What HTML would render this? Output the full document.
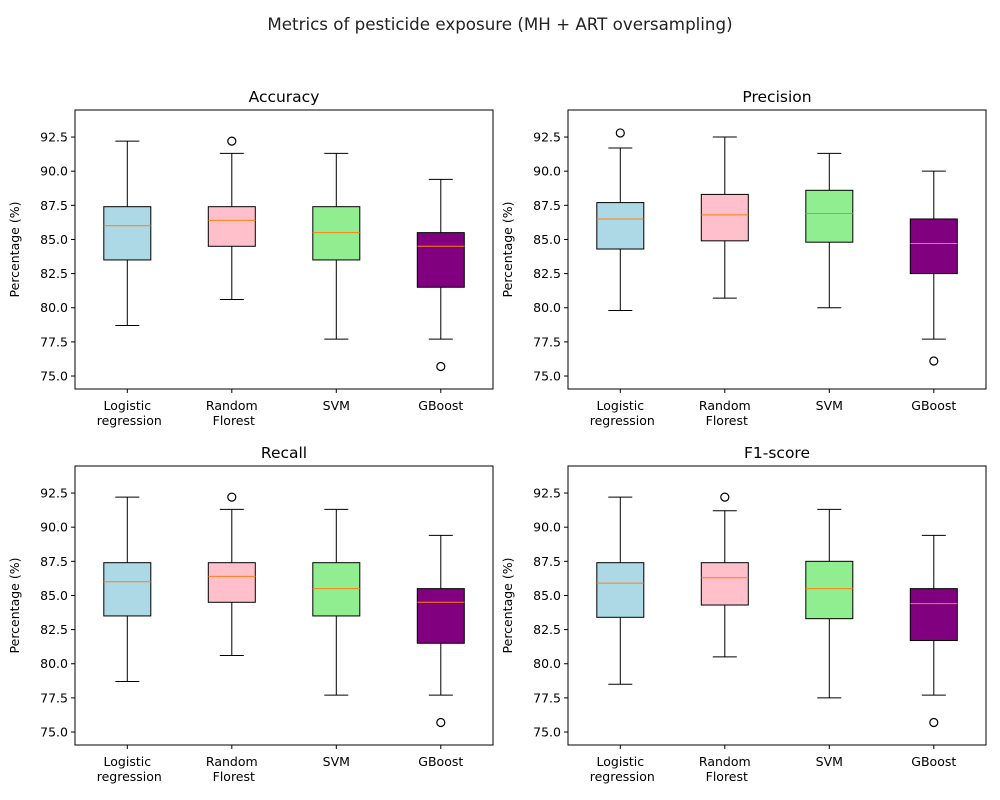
<!DOCTYPE html>
<html><head><meta charset="utf-8"><style>body{margin:0;background:#fff}svg{display:block;font-family:"DejaVu Sans","Liberation Sans",sans-serif}</style></head>
<body>
<svg id="fig" width="1000" height="800">
<rect width="1000" height="800" fill="#fff"/>
<text x="500" y="30" text-anchor="middle" font-size="16.7" fill="#222">Metrics of pesticide exposure (MH + ART oversampling)</text>
</svg>
<script>
const categories = ["Logistic\n regression","Random\n Florest","SVM","GBoost"];
const colors = ["lightblue","pink","lightgreen","purple"];
const panelTitles = ["Accuracy","Precision","Recall","F1-score"];
const yTicks = [75.0,77.5,80.0,82.5,85.0,87.5,90.0,92.5];
// [whiskerLow, q1, median, q3, whiskerHigh] per category
const accuracyStats = [[78.7,83.5,86.0,87.4,92.2],[80.6,84.5,86.4,87.4,91.3],[77.7,83.5,85.5,87.4,91.3],[77.7,81.5,84.5,85.5,89.4]];
const precisionStats = [[79.8,84.3,86.5,87.7,91.7],[80.7,84.9,86.8,88.3,92.5],[80.0,84.8,86.9,88.6,91.3],[77.7,82.5,84.7,86.5,90.0]];
const recallStats = [[78.7,83.5,86.0,87.4,92.2],[80.6,84.5,86.4,87.4,91.3],[77.7,83.5,85.5,87.4,91.3],[77.7,81.5,84.5,85.5,89.4]];
const f1Stats = [[78.5,83.4,85.9,87.4,92.2],[80.5,84.3,86.3,87.4,91.2],[77.5,83.3,85.5,87.5,91.3],[77.7,81.7,84.4,85.5,89.4]];
const accuracyOutliers = [[],[92.2],[],[75.7]];
const precisionOutliers = [[92.8],[],[],[76.1]];
const recallOutliers = [[],[92.2],[],[75.7]];
const f1Outliers = [[],[92.2],[],[75.7]];
const allStats=[accuracyStats,precisionStats,recallStats,f1Stats];
const allOut=[accuracyOutliers,precisionOutliers,recallOutliers,f1Outliers];
const NS="http://www.w3.org/2000/svg";
const svg=document.getElementById('fig');
function mk(tag,attrs,parent,text){const e=document.createElementNS(NS,tag);for(const k in attrs)e.setAttribute(k,attrs[k]);if(text!==undefined)e.textContent=text;(parent||svg).appendChild(e);return e;}
const origins=[[75,110],[568,110],[75,466],[568,466]];
const W=418,H=279,yMin=74.05,yMax=94.48;
origins.forEach((o,p)=>{
  const [ox,oy]=o;
  const g=mk('g',{});
  
  
  const y=v=>oy+H-(v-yMin)/(yMax-yMin)*H;
  const xs=i=>ox+52.3+i*104.5;
  const t=mk('text',{x:ox+W/2,y:oy-8,'text-anchor':'middle','font-size':15.5,fill:'#000'},g,panelTitles[p]);
  
  
  yTicks.forEach(v=>{
    mk('line',{x1:ox-4,x2:ox,y1:y(v),y2:y(v),stroke:'#000'},g);
    const l=mk('text',{x:ox-7,y:y(v)+4.5,'text-anchor':'end','font-size':12.5,fill:'#000'},g,v.toFixed(1));
    
    
  });
  const yl=mk('text',{transform:`translate(${ox-56},${oy+H/2}) rotate(-90)`,'text-anchor':'middle','font-size':12.5},g,'Percentage (%)');
  
  
  allStats[p].forEach((s,i)=>{
    const cx=xs(i);
    const bg=mk('g',{},g);
    
    
    mk('line',{x1:cx,x2:cx,y1:y(s[0]),y2:y(s[1]),stroke:'#000'},bg);
    mk('line',{x1:cx,x2:cx,y1:y(s[3]),y2:y(s[4]),stroke:'#000'},bg);
    mk('line',{x1:cx-12,x2:cx+12,y1:y(s[0]),y2:y(s[0]),stroke:'#000'},bg);
    mk('line',{x1:cx-12,x2:cx+12,y1:y(s[4]),y2:y(s[4]),stroke:'#000'},bg);
    mk('rect',{x:cx-23.5,y:y(s[3]),width:47,height:y(s[1])-y(s[3]),fill:colors[i],stroke:'#000'},bg);
    mk('line',{x1:cx-23.5,x2:cx+23.5,y1:y(s[2]),y2:y(s[2]),stroke:'#ff7f0e'},bg);
    allOut[p][i].forEach(v=>{
      const c=mk('circle',{cx:cx,cy:y(v),r:4,fill:'none',stroke:'#000','stroke-width':1.2},bg);
      
      
    });
    mk('line',{x1:cx,x2:cx,y1:oy+H,y2:oy+H+4,stroke:'#000'},g);
    categories[i].split('\n').forEach((ln,k)=>{
      const tl=mk('text',{x:cx,y:oy+H+21+k*15,'text-anchor':'middle','font-size':12.5,'xml:space':'preserve'},g,ln);
      tl.setAttribute('style','white-space:pre');
      
      
    });
  });
  mk('rect',{x:ox,y:oy,width:W,height:H,fill:'none',stroke:'#000'},g);
});
</script>
</body></html>
